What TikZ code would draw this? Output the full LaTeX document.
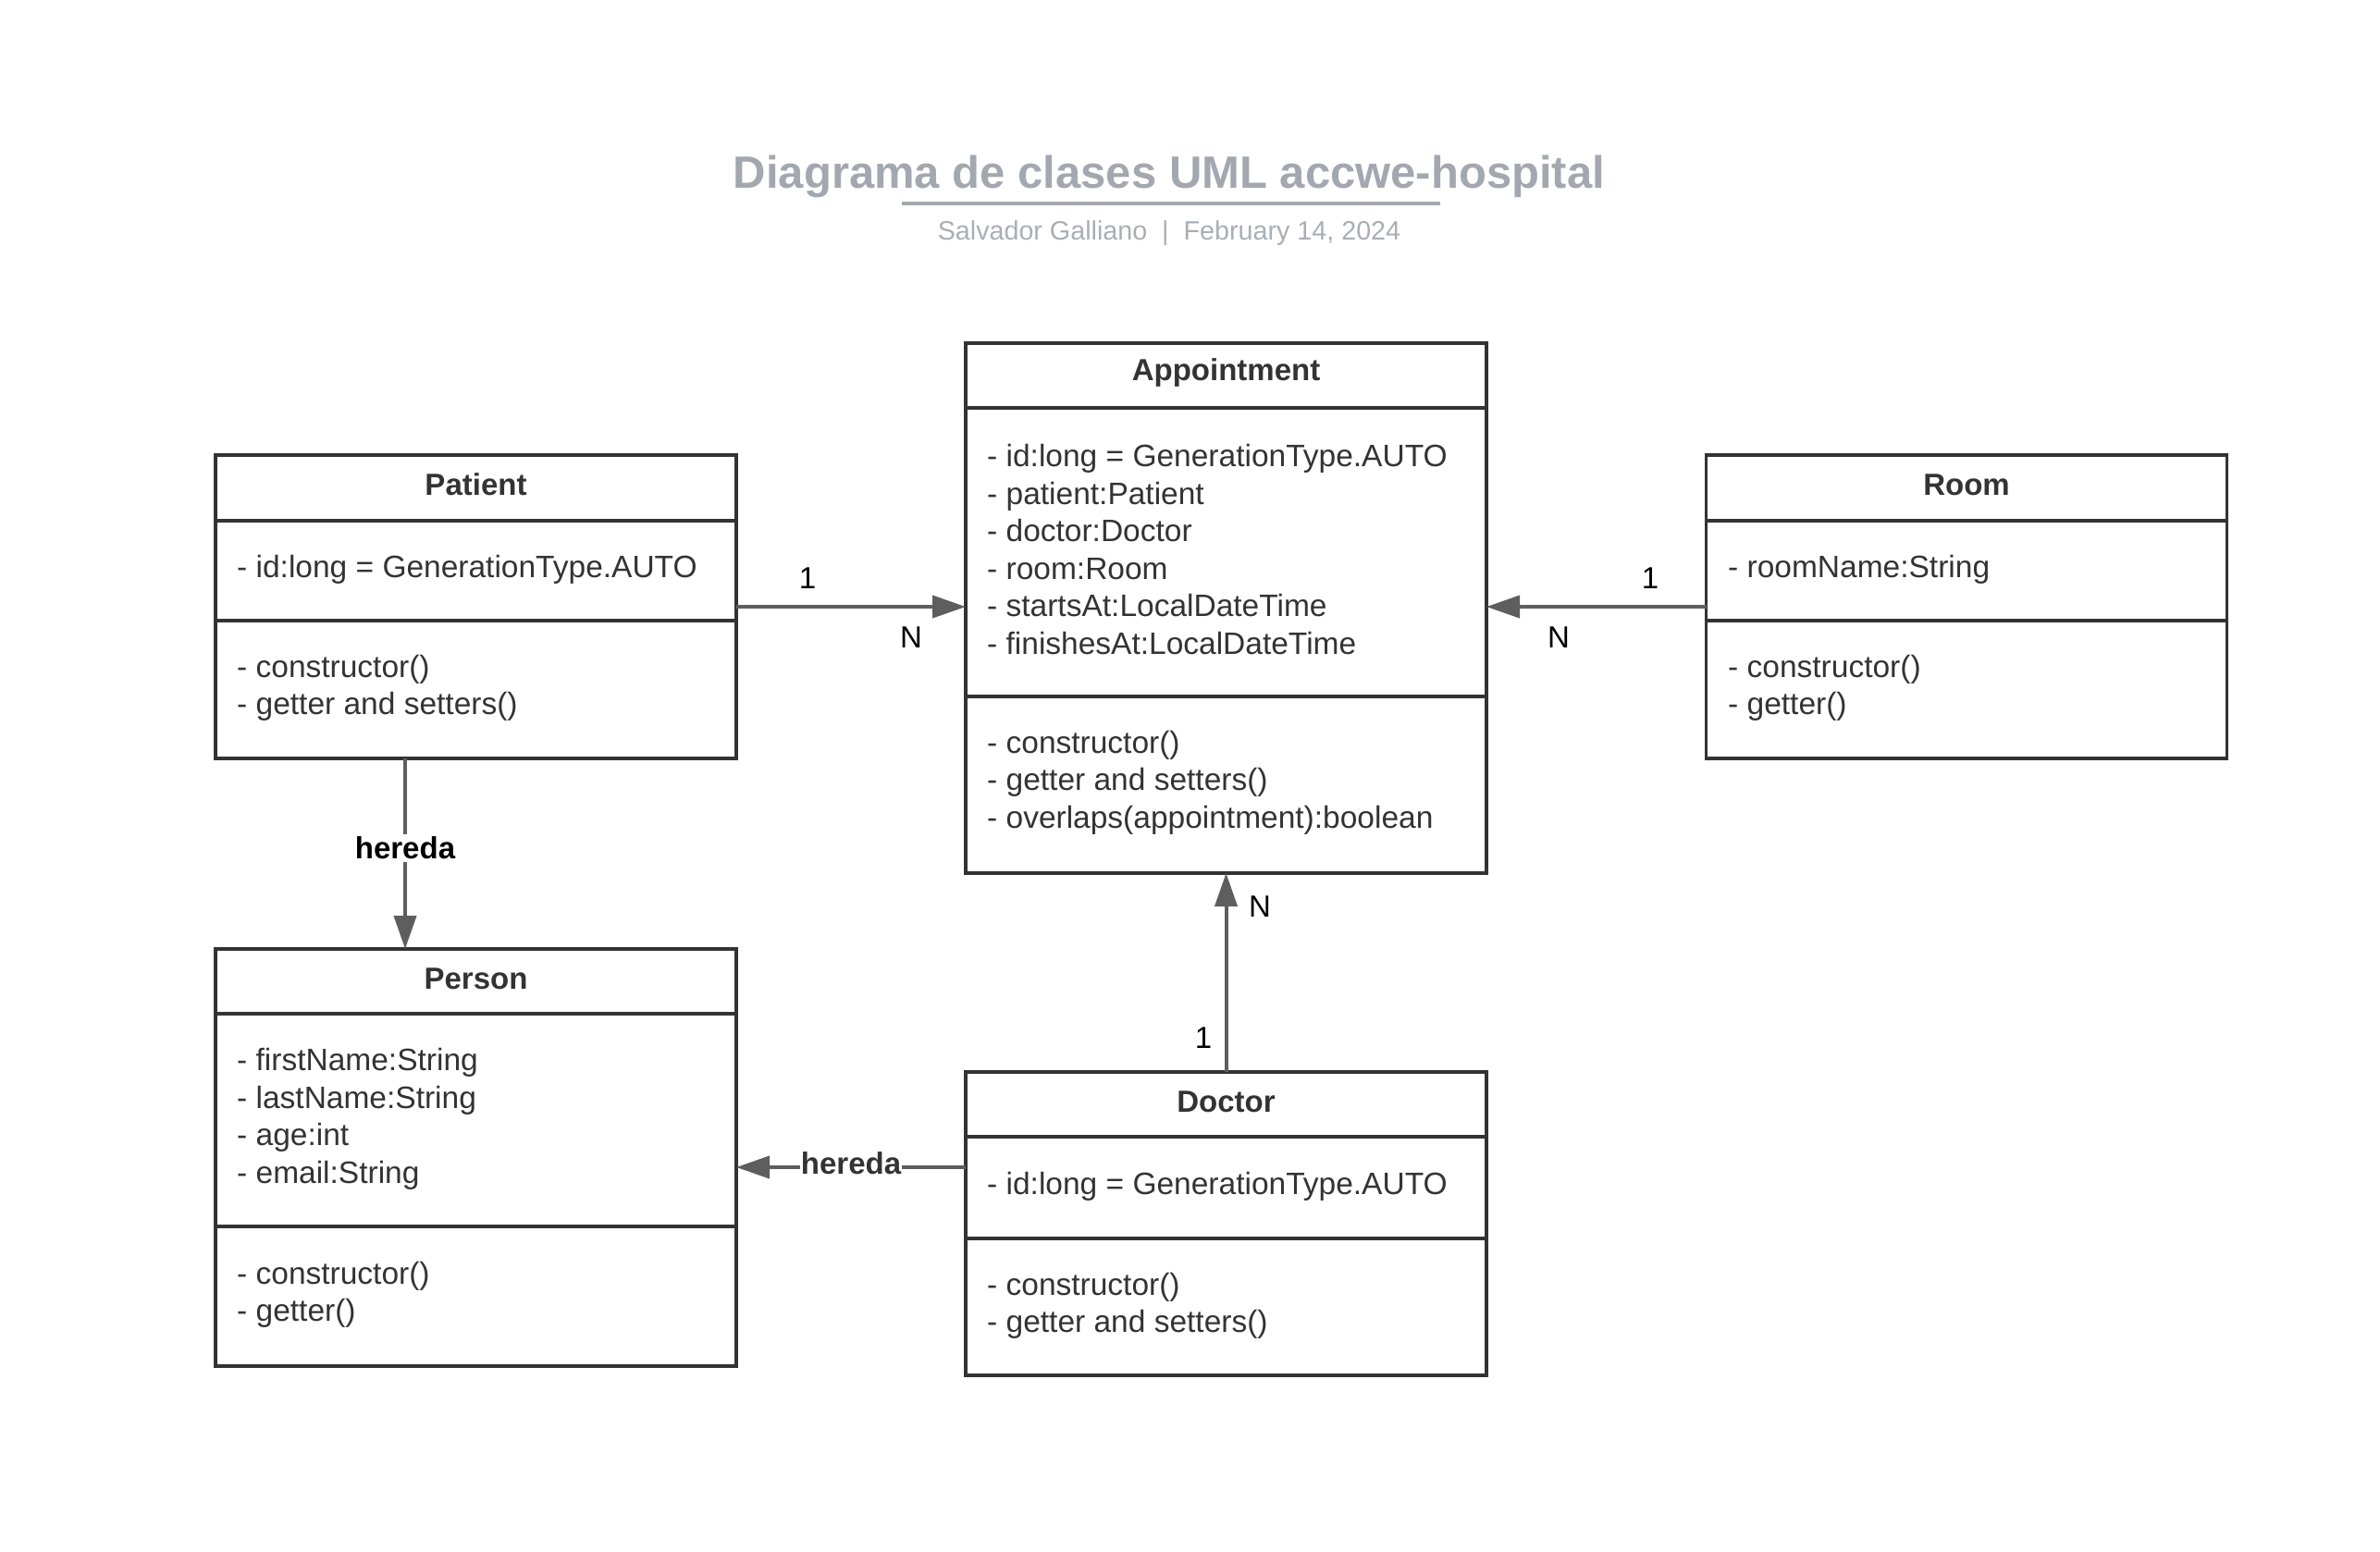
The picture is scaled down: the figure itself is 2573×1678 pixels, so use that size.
\documentclass[tikz,border=0pt]{standalone}
\usepackage{fontspec}
\setmainfont{Liberation Sans}
\usetikzlibrary{arrows.meta}
\definecolor{ink}{HTML}{333333}
\definecolor{arrowgray}{HTML}{5E5E5E}
\definecolor{titlegray}{HTML}{A3A8B0}
\definecolor{subgray}{HTML}{A9AEB5}
\begin{document}
\begin{tikzpicture}[x=1pt,y=-1pt,
 classbox/.style={draw=ink, line width=3.5pt, rectangle, inner sep=0pt, outer sep=0pt, minimum width=563pt},
 sepline/.style={draw=ink, line width=3.5pt},
 header/.style={font=\fontsize{33}{40}\selectfont\bfseries, text=ink, inner sep=0pt},
 body/.style={font=\fontsize{33.5}{40.5}\selectfont, text=ink, align=left, anchor=west, inner sep=0pt},
 conn/.style={draw=arrowgray, line width=4pt, -{Triangle[length=36pt,width=24pt]}},
 mult/.style={font=\fontsize{33}{40}\selectfont, text=black, inner sep=0pt},
 herlabel/.style={font=\fontsize{33}{40}\selectfont\bfseries, fill=white, inner sep=3pt}
]
\useasboundingbox (0,0) rectangle (2573,1678);

% Title
\node[font=\fontsize{49}{58}\selectfont\bfseries, text=titlegray, anchor=base, inner sep=0pt] (title) at (1264,203) {Diagrama de clases UML accwe-hospital};
\draw[titlegray, line width=4pt] (975,220) -- (1557,220);
\node[font=\fontsize{28.7}{34}\selectfont, text=subgray, anchor=base, inner sep=0pt] (subtitle) at (1264,259) {Salvador Galliano \ |\ \ February 14, 2024};

% Patient
\node[classbox, minimum height=328pt] (patient) at (514.5,656) {};
\draw[sepline] (233,563) -- (796,563);
\draw[sepline] (233,671) -- (796,671);
\node[header] (patientH) at (514.5,524) {Patient};
\node[body] (patientA) at (256,616) {- id:long = GenerationType.AUTO};
\node[body] (patientM) at (256,744) {- constructor()\\- getter and setters()};

% Appointment
\node[classbox, minimum height=573pt] (appt) at (1325.5,657.5) {};
\draw[sepline] (1044,441) -- (1607,441);
\draw[sepline] (1044,753) -- (1607,753);
\node[header] (apptH) at (1325.5,403) {Appointment};
\node[body] (apptA) at (1067,594) {- id:long = GenerationType.AUTO\\- patient:Patient\\- doctor:Doctor\\- room:Room\\- startsAt:LocalDateTime\\- finishesAt:LocalDateTime};
\node[body] (apptM) at (1067,846) {- constructor()\\- getter and setters()\\- overlaps(appointment):boolean};

% Room
\node[classbox, minimum height=328pt] (room) at (2126,656) {};
\draw[sepline] (1845,563) -- (2407,563);
\draw[sepline] (1845,671) -- (2407,671);
\node[header] (roomH) at (2126,524) {Room};
\node[body] (roomA) at (1868,616) {- roomName:String};
\node[body] (roomM) at (1868,744) {- constructor()\\- getter()};

% Person
\node[classbox, minimum height=451pt] (person) at (514.5,1251.5) {};
\draw[sepline] (233,1096) -- (796,1096);
\draw[sepline] (233,1326) -- (796,1326);
\node[header] (personH) at (514.5,1058) {Person};
\node[body] (personA) at (256,1210) {- firstName:String\\- lastName:String\\- age:int\\- email:String};
\node[body] (personM) at (256,1400) {- constructor()\\- getter()};

% Doctor
\node[classbox, minimum height=328pt] (doctor) at (1325.5,1323) {};
\draw[sepline] (1044,1229) -- (1607,1229);
\draw[sepline] (1044,1339) -- (1607,1339);
\node[header] (doctorH) at (1325.5,1191) {Doctor};
\node[body] (doctorA) at (1067,1283) {- id:long = GenerationType.AUTO};
\node[body] (doctorM) at (1067,1412) {- constructor()\\- getter and setters()};

% Connectors
\draw[conn] (patient.east) -- (appt.west |- patient.east);
\node[mult] (m1) at (873,625) {1};
\node[mult] (m2) at (985,689) {N};

\draw[conn] (room.west) -- (appt.east |- room.west);
\node[mult] (m3) at (1784,625) {1};
\node[mult] (m4) at (1685,689) {N};

\draw[conn] (doctor.north) -- (appt.south);
\node[mult] (m5) at (1362,980) {N};
\node[mult] (m6) at (1301,1122) {1};

\coordinate (pa) at ([xshift=-76.5pt]patient.south);
\coordinate (pe) at ([xshift=-76.5pt]person.north);
\draw[conn] (pa) -- (pe) node[herlabel, text=black, pos=0.47] (her1) {hereda};

\coordinate (da) at (doctor.west |- 0,1262);
\coordinate (de) at (person.east |- 0,1262);
\draw[conn] (da) -- (de) node[herlabel, text=ink, pos=0.5, inner sep=1pt, yshift=4pt] (her2) {hereda};
\end{tikzpicture}
\end{document}
